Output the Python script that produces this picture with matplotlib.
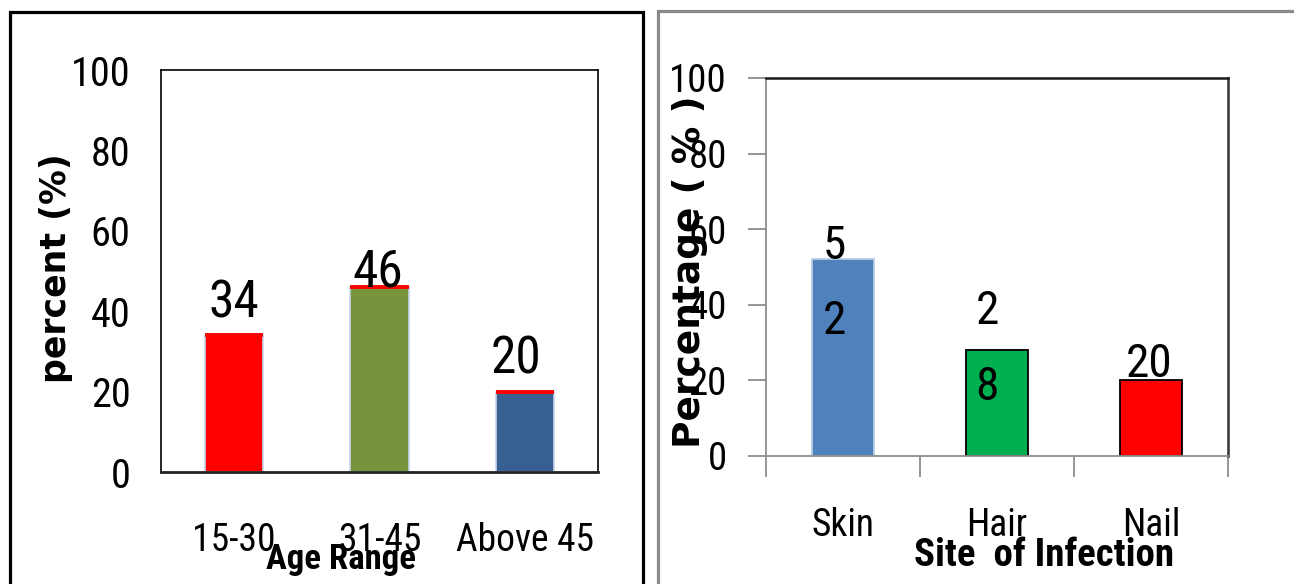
import matplotlib
matplotlib.use("Agg")
import matplotlib.pyplot as plt
from matplotlib import font_manager as fm
from matplotlib.patches import Rectangle

# ---- data -------------------------------------------------------------
age_groups = ["15-30", "31-45", "Above 45"]
age_percent = [34, 46, 20]

sites = ["Skin", "Hair", "Nail"]
site_percent = [52, 28, 20]
site_label_wrapped = [True, True, False]

y_ticks = [0, 20, 40, 60, 80, 100]

# ---- styling ----------------------------------------------------------
age_colors = ["#ff0000", "#77933c", "#375f91"]
site_colors = ["#4f81bd", "#00b050", "#ff0000"]
site_edges = ["#b8cce4", "black", "black"]

age_label_offsets = [(0, 32), (-2, 15), (-9, 32)]      # pixels
site_label_offsets = [(-9, -24), (-10, 1), (-2, 16)]   # pixels


def first_font(candidates):
    for fam in candidates:
        try:
            fm.findfont(fm.FontProperties(family=fam), fallback_to_default=False)
            return fam
        except ValueError:
            continue
    return "DejaVu Sans"


NARROW = first_font(["Liberation Sans Narrow", "Roboto Condensed", "DejaVu Sans"])
STRETCH = "condensed" if NARROW == "DejaVu Sans" else "normal"
narrow = dict(family=NARROW, stretch=STRETCH)

W, H, DPI = 1294, 584, 100
fig = plt.figure(figsize=(W / DPI, H / DPI), dpi=DPI)
fig.patch.set_facecolor("white")


def fx(px):
    return px / W


def fy(py):
    return 1 - py / H


# panel frames
fig.add_artist(Rectangle((fx(10), fy(700)), fx(633), fy(11.5) - fy(700),
                         transform=fig.transFigure, fill=False,
                         edgecolor="black", linewidth=2.3))
fig.add_artist(Rectangle((fx(658), fy(700)), fx(700), fy(10.5) - fy(700),
                         transform=fig.transFigure, fill=False,
                         edgecolor="#8a8a8a", linewidth=2.3))

# ---- left chart: age range ------------------------------------------
ax1 = fig.add_axes([fx(161), fy(472), fx(598 - 161), fy(70) - fy(472)])
x1 = range(len(age_groups))
ax1.bar(x1, age_percent, width=0.4, color=age_colors,
        edgecolor="#c6d6ec", linewidth=1.2, zorder=2)
ax1.hlines(age_percent, [i - 0.2 for i in x1], [i + 0.2 for i in x1],
           colors="#ff0000", linewidth=2.8, zorder=3)
ax1.set_xlim(-0.5, 2.5)
ax1.set_ylim(0, 100)
ax1.set_yticks(y_ticks)
ax1.set_xticks(list(x1))
ax1.set_xticklabels(age_groups)
ax1.tick_params(axis="both", length=0)
ax1.tick_params(axis="y", pad=22)
ax1.tick_params(axis="x", pad=36)
for lab in ax1.get_yticklabels():
    lab.set_fontsize(29)
    lab.set_fontfamily(NARROW)
    lab.set_fontstretch(STRETCH)
for lab in ax1.get_xticklabels():
    lab.set_fontsize(27)
    lab.set_fontfamily(NARROW)
    lab.set_fontstretch(STRETCH)
for sp in ax1.spines.values():
    sp.set_linewidth(1.2)
    sp.set_color("black")
ax1.spines["bottom"].set_linewidth(2.0)
ax1.spines["bottom"].set_color("#222222")

for i, (v, off) in enumerate(zip(age_percent, age_label_offsets)):
    ax1.annotate(str(v), (i, v), xytext=off, textcoords="offset pixels",
                 ha="center", va="center", fontsize=37, zorder=4, **narrow)

ax1.set_ylabel("percent (%)", family="DejaVu Sans", fontweight="bold",
               fontsize=25, va="center", ha="center")
ax1.yaxis.set_label_coords(-0.240, 0.507)
ax1.set_xlabel("Age Range", fontweight="bold", fontsize=25,
               va="center", ha="center", **narrow)
ax1.xaxis.set_label_coords(0.412, -0.218)

# ---- right chart: site of infection ---------------------------------
ax2 = fig.add_axes([fx(766), fy(456), fx(1228 - 766), fy(78) - fy(456)])
x2 = range(len(sites))
ax2.bar(x2, site_percent, width=0.4, color=site_colors,
        edgecolor=site_edges, linewidth=1.3, zorder=2)
ax2.set_xlim(-0.5, 2.5)
ax2.set_ylim(0, 100)
ax2.set_yticks(y_ticks)
ax2.set_xticks(list(x2))
ax2.set_xticklabels(sites)
ax2.set_xticks([-0.5, 0.5, 1.5, 2.5], minor=True)
ax2.tick_params(axis="x", which="major", length=0, pad=37)
ax2.tick_params(axis="x", which="minor", length=15, width=1.3,
                color="#8c8c8c", direction="out")
ax2.tick_params(axis="y", length=13, width=1.3, color="#8c8c8c",
                direction="out", pad=15)
for lab in ax2.get_yticklabels():
    lab.set_fontsize(28)
    lab.set_fontfamily(NARROW)
    lab.set_fontstretch(STRETCH)
for lab in ax2.get_xticklabels():
    lab.set_fontsize(27)
    lab.set_fontfamily(NARROW)
    lab.set_fontstretch(STRETCH)
ax2.spines["left"].set_color("#8c8c8c")
ax2.spines["bottom"].set_color("#8c8c8c")
ax2.spines["left"].set_linewidth(1.3)
ax2.spines["bottom"].set_linewidth(1.3)
ax2.spines["top"].set_color("#1a1a1a")
ax2.spines["right"].set_color("#333333")
ax2.spines["top"].set_linewidth(1.8)
ax2.spines["right"].set_linewidth(1.8)

for i, (v, wrap, off) in enumerate(zip(site_percent, site_label_wrapped,
                                       site_label_offsets)):
    text = "\n".join(str(v)) if wrap else str(v)
    ax2.annotate(text, (i, v), xytext=off, textcoords="offset pixels",
                 ha="center", va="center", fontsize=34, linespacing=1.9,
                 zorder=4, **narrow)

ax2.set_ylabel("Percentage ( % )", family="DejaVu Sans", fontweight="bold",
               fontsize=27, va="center", ha="center")
ax2.yaxis.set_label_coords(-0.1645, 0.487)
ax2.set_xlabel("Site  of Infection", fontweight="bold", fontsize=28,
               va="center", ha="center", **narrow)
ax2.xaxis.set_label_coords(0.602, -0.262)

fig.savefig("out.png", dpi=DPI, facecolor="white")
